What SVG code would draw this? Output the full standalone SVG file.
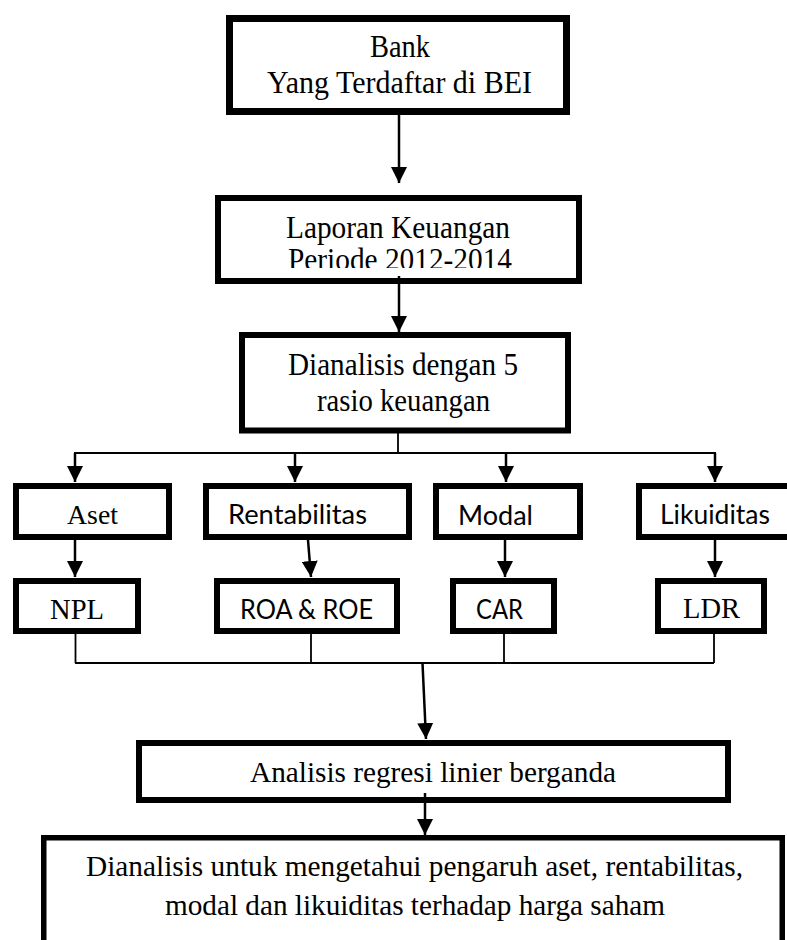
<svg xmlns="http://www.w3.org/2000/svg" width="787" height="940" viewBox="0 0 787 940">
<style>
.box{fill:none;stroke:#000;stroke-width:6}
.serif{font-family:"Liberation Serif","Times New Roman",serif;fill:#000}
.sans{font-family:Lato,"Liberation Sans",sans-serif;fill:#000}
.arr{stroke:#000;stroke-width:2.5;fill:none;marker-end:url(#ah)}
.thin{stroke:#000;stroke-width:1.8;fill:none}
</style>
<defs>
<marker id="ah" markerUnits="userSpaceOnUse" markerWidth="16" markerHeight="16" refX="16" refY="8" orient="auto">
<path d="M0,0 L16,8 L0,16 z" fill="#000"/>
</marker>
<clipPath id="clipP"><rect x="200" y="240" width="400" height="28"/></clipPath>
</defs>
<rect width="787" height="940" fill="#fff"/>

<g id="connectors">
<line class="arr" x1="399" y1="110" x2="399" y2="183"/>
<line class="arr" x1="399" y1="276" x2="399" y2="332"/>
<polyline class="thin" points="398,433 398,453"/>
<line class="thin" x1="74" y1="453" x2="716" y2="453" style="stroke-width:2"/>
<line class="arr" x1="75" y1="453" x2="75" y2="482"/>
<line class="arr" x1="295" y1="453" x2="295" y2="482"/>
<line class="arr" x1="506" y1="453" x2="506" y2="482"/>
<line class="arr" x1="715" y1="453" x2="715" y2="482"/>
<line class="arr" x1="75" y1="540" x2="75" y2="577"/>
<line class="arr" x1="308" y1="540" x2="311" y2="577"/>
<line class="arr" x1="505" y1="540" x2="505" y2="577"/>
<line class="arr" x1="715" y1="540" x2="715" y2="577"/>
<line class="thin" x1="75.5" y1="634" x2="75.5" y2="663"/>
<line class="thin" x1="311" y1="634" x2="311" y2="663"/>
<line class="thin" x1="504" y1="634" x2="504" y2="663"/>
<line class="thin" x1="714" y1="634" x2="714" y2="663"/>
<line class="thin" x1="75" y1="663" x2="714" y2="663"/>
<line class="arr" x1="422.5" y1="663" x2="426" y2="739"/>
<line class="arr" x1="425" y1="793" x2="425" y2="835"/>
</g>

<g id="bank">
<rect class="box" x="229.5" y="18.5" width="337" height="93" style="stroke-width:7"/>
<text class="serif" x="370" y="57" font-size="32" textLength="60" lengthAdjust="spacingAndGlyphs">Bank</text>
<text class="serif" x="267" y="92.5" font-size="32" textLength="265" lengthAdjust="spacingAndGlyphs">Yang Terdaftar di BEI</text>
</g>

<g id="laporan">
<rect class="box" x="218" y="198" width="361" height="83"/>
<text class="serif" x="286" y="238" font-size="32" textLength="224" lengthAdjust="spacingAndGlyphs">Laporan Keuangan</text>
<text class="serif" x="288" y="270" font-size="32" textLength="224" lengthAdjust="spacingAndGlyphs" clip-path="url(#clipP)">Periode 2012-2014</text>
</g>

<g id="dianalisis">
<rect class="box" x="242" y="335" width="326" height="95.5"/>
<text class="serif" x="288" y="375" font-size="32" textLength="230" lengthAdjust="spacingAndGlyphs">Dianalisis dengan 5</text>
<text class="serif" x="317" y="411" font-size="32" textLength="173" lengthAdjust="spacingAndGlyphs">rasio keuangan</text>
</g>

<g id="aset">
<rect class="box" x="16" y="486" width="153" height="51"/>
<text class="serif" x="67" y="524" font-size="28" textLength="51" lengthAdjust="spacingAndGlyphs">Aset</text>
</g>
<g id="rentabilitas">
<rect class="box" x="206" y="486" width="203" height="51"/>
<text class="sans" x="228" y="524" font-size="26" textLength="139" lengthAdjust="spacingAndGlyphs">Rentabilitas</text>
</g>
<g id="modal">
<rect class="box" x="436" y="486" width="144" height="51"/>
<text class="sans" x="458" y="525" font-size="26" textLength="75" lengthAdjust="spacingAndGlyphs">Modal</text>
</g>
<g id="likuiditas">
<rect class="box" x="639" y="486" width="170" height="51"/>
<text class="sans" x="660" y="524" font-size="26" textLength="110" lengthAdjust="spacingAndGlyphs">Likuiditas</text>
</g>

<g id="npl">
<rect class="box" x="16" y="581" width="122" height="50"/>
<text class="serif" x="50" y="619" font-size="29" textLength="54" lengthAdjust="spacingAndGlyphs">NPL</text>
</g>
<g id="roa">
<rect class="box" x="217" y="581" width="180" height="50"/>
<text class="sans" x="240" y="619" font-size="26" textLength="133" lengthAdjust="spacingAndGlyphs">ROA &amp; ROE</text>
</g>
<g id="car">
<rect class="box" x="453" y="581" width="101" height="50"/>
<text class="sans" x="476" y="619" font-size="26" textLength="47" lengthAdjust="spacingAndGlyphs">CAR</text>
</g>
<g id="ldr">
<rect class="box" x="658" y="581" width="106" height="50"/>
<text class="serif" x="683" y="618" font-size="29" textLength="57" lengthAdjust="spacingAndGlyphs">LDR</text>
</g>

<g id="regresi">
<rect class="box" x="139" y="743" width="589" height="57"/>
<text class="serif" x="250" y="782" font-size="29" textLength="366" lengthAdjust="spacingAndGlyphs">Analisis regresi linier berganda</text>
</g>

<g id="kesimpulan">
<rect class="box" x="43.75" y="837.75" width="738.5" height="120" style="stroke-width:5.5"/>
<text class="serif" x="86" y="876" font-size="29" textLength="657" lengthAdjust="spacingAndGlyphs">Dianalisis untuk mengetahui pengaruh aset, rentabilitas,</text>
<text class="serif" x="165" y="915" font-size="29" textLength="500" lengthAdjust="spacingAndGlyphs">modal dan likuiditas terhadap harga saham</text>
</g>
</svg>
